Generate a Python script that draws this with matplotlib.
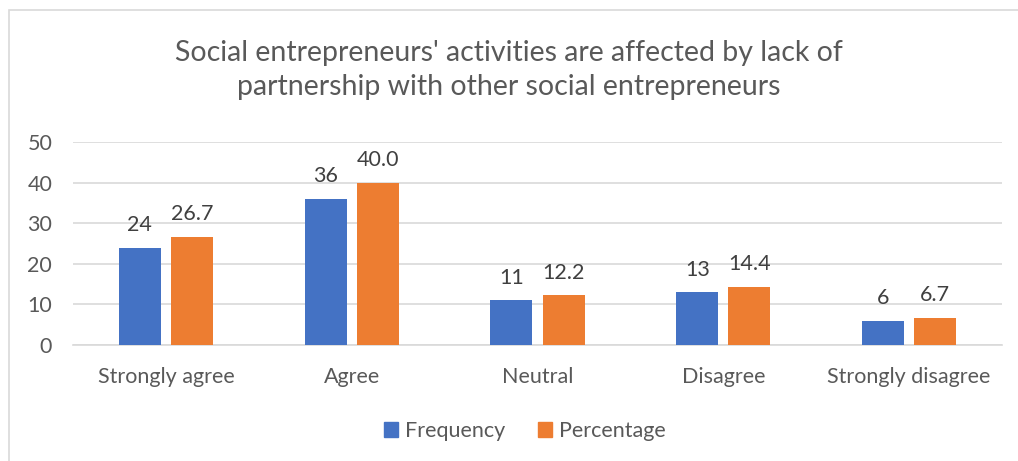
import matplotlib
matplotlib.use("Agg")
import matplotlib.pyplot as plt
from matplotlib.patches import Rectangle
import numpy as np

categories = ["Strongly agree", "Agree", "Neutral", "Disagree", "Strongly disagree"]
frequency = [24, 36, 11, 13, 6]
percentage = [26.7, 40.0, 12.2, 14.4, 6.7]
freq_labels = ["24", "36", "11", "13", "6"]
pct_labels = ["26.7", "40.0", "12.2", "14.4", "6.7"]
title = "Social entrepreneurs' activities are affected by lack of\npartnership with other social entrepreneurs"

BLUE = "#4472C4"
ORANGE = "#ED7D31"
TEXT = "#595959"
GRID = "#D9D9D9"

plt.rcParams["font.family"] = ["Lato", "DejaVu Sans"]

fig = plt.figure(figsize=(10.18, 4.61), dpi=100)
fig.patch.set_facecolor("white")

# chart frame
fig.add_artist(Rectangle((9 / 1018, -0.1), 1.2, (461 - 10) / 461 + 0.1,
                         transform=fig.transFigure, fill=False,
                         edgecolor="#D9D9D9", linewidth=1.2))

left, right = 73 / 1018, 1002 / 1018
bottom, top = 1 - 345 / 461, 1 - 142 / 461
ax = fig.add_axes([left, bottom, right - left, top - bottom])

x = np.arange(len(categories))
w = 0.226
gap = 0.054
off = (w + gap) / 2
b1 = ax.bar(x - off, frequency, w, color=BLUE, zorder=3)
b2 = ax.bar(x + off, percentage, w, color=ORANGE, zorder=3)

for bars, labels in ((b1, freq_labels), (b2, pct_labels)):
    for rect, lab in zip(bars, labels):
        ax.annotate(lab, (rect.get_x() + rect.get_width() / 2, rect.get_height()),
                    xytext=(0, 9), textcoords="offset points", ha="center",
                    va="bottom", fontsize=15.5, color="#404040")

ax.set_xlim(-0.5, len(categories) - 0.5)
ax.set_ylim(0, 50)
ax.set_yticks(range(0, 51, 10))
ax.yaxis.grid(True, color=GRID, linewidth=1.2, zorder=0)
ax.set_axisbelow(True)
ax.set_xticks(x)
ax.set_xticklabels(categories)
for s in ["top", "right", "left"]:
    ax.spines[s].set_visible(False)
ax.spines["bottom"].set_color(GRID)
ax.spines["bottom"].set_linewidth(1.2)
ax.tick_params(axis="both", length=0, labelsize=15.5, labelcolor=TEXT)
ax.tick_params(axis="y", pad=15)
ax.tick_params(axis="x", pad=16)

fig.text(0.5, 1 - 70 / 461, title, ha="center", va="center", fontsize=20.5,
         color=TEXT, linespacing=1.35)

handles = [Rectangle((0, 0), 1, 1, color=BLUE), Rectangle((0, 0), 1, 1, color=ORANGE)]
fig.legend(handles, ["Frequency", "Percentage"], loc="center",
           bbox_to_anchor=(525 / 1018, 1 - 431 / 461), ncol=2, frameon=False,
           fontsize=15.5, labelcolor=TEXT, handlelength=0.65, handleheight=0.65,
           handletextpad=0.35, columnspacing=1.5)

fig.savefig("out.png", dpi=100, facecolor="white")
